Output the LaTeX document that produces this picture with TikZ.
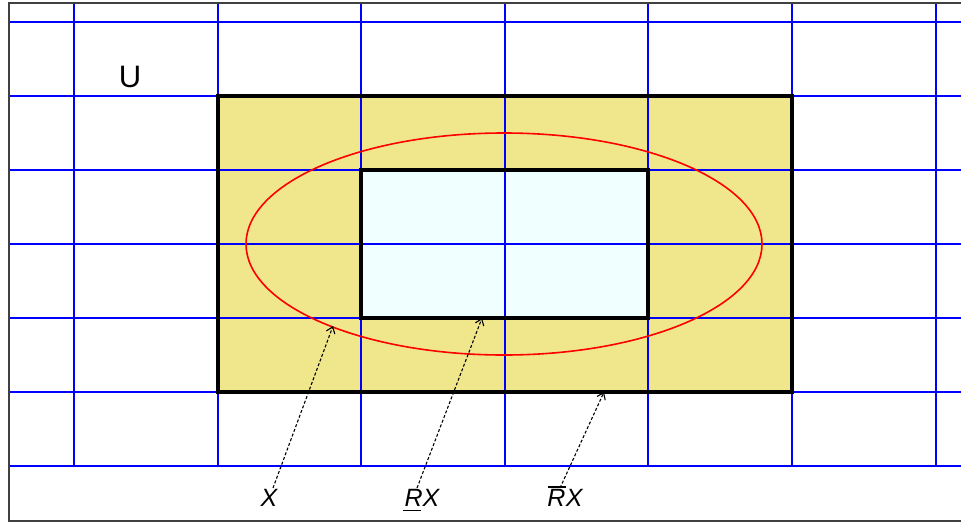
\documentclass[tikz,border=0pt]{standalone}
\usepackage{fontspec}
\setmainfont{Liberation Sans}
\usetikzlibrary{arrows.meta}
\definecolor{khakif}{HTML}{F0E68C}
\definecolor{azuref}{HTML}{F0FFFF}
\definecolor{gridblue}{HTML}{0000FF}
\newcommand\myunder[1]{\ooalign{#1\cr\hspace{-0.05em}\rule[-0.2em]{0.72em}{1.8pt}}}
\newcommand\myover[1]{\ooalign{#1\cr\hspace{0.04em}\rule[0.73em]{0.7em}{1.8pt}}}
\begin{document}
\begin{tikzpicture}[x=1pt,y=-1pt,
  gridline/.style={gridblue,line width=2pt},
  boxline/.style={black,line width=3.2pt},
  lbl/.style={font=\fontsize{25}{25}\selectfont\itshape,inner sep=0pt,anchor=north},
  pointer/.style={black,line width=1.1pt,dash pattern=on 3pt off 2pt,-{Straight Barb[length=6pt,width=9pt]}}]
\useasboundingbox (0,0) rectangle (961,523);
\clip (0,0) rectangle (961,523);
% fills
\fill[khakif] (218,96) rectangle (792,392);
\fill[azuref] (361,170) rectangle (648,318);
% grid
\foreach \x in {74,218,361,505,648,792,936} \draw[gridline] (\x,3) -- (\x,466);
\foreach \y in {22,96,170,244,318,392,466} \draw[gridline] (9,\y) -- (965,\y);
% boxes
\draw[boxline] (218,96) rectangle (792,392);
\draw[boxline] (361,170) rectangle (648,318);
% ellipse
\draw[red,line width=1.6pt] (504,244) ellipse [x radius=258, y radius=111];
% outer border
\draw[black!75,line width=2.4pt] (9,3) rectangle (970,521);
% labels
\node[font=\fontsize{31}{31}\selectfont,inner sep=0pt] (u) at (130,77) {U};
\node[lbl] (lx) at (269,489) {X};
\node[lbl] (lrx) at (422,489) {\myunder{R}X};
\node[lbl] (lorx) at (565,489) {\myover{R}X};
% arrow tips
\coordinate (tx) at (333,326);
\coordinate (trx) at (482,318);
\coordinate (torx) at (604,392);
\coordinate (sx) at (273,488);
\coordinate (srx) at (417,488);
\coordinate (sorx) at (560,488);
\draw[pointer] (sx) -- (tx);
\draw[pointer] (srx) -- (trx);
\draw[pointer] (sorx) -- (torx);
\end{tikzpicture}
\end{document}
